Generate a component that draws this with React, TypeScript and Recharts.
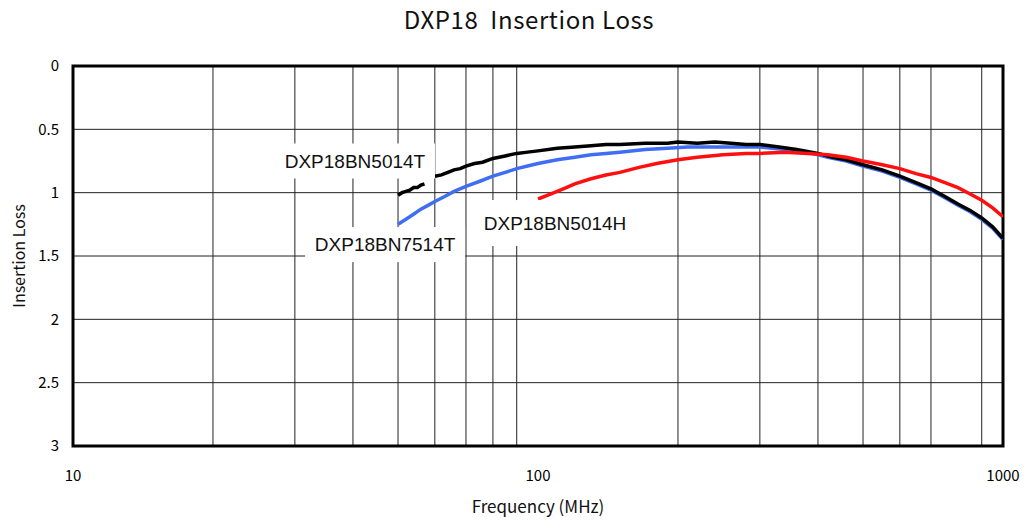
import {
  LineChart,
  Line,
  XAxis,
  YAxis,
  CartesianGrid,
  ReferenceArea,
  ReferenceDot,
  Label,
} from "recharts";

// Frequency (MHz) / insertion loss readings per part
const freq5014T = [50, 51, 52, 53, 54, 55, 56, 57, 58.5, 60, 62, 64, 66, 68, 70, 73, 76, 80, 85, 90, 95, 100, 110, 120, 130, 140, 150, 170, 190, 200, 220, 240, 260, 280, 300, 330, 360, 400, 430, 460, 500, 550, 600, 650, 700, 750, 800, 850, 900, 950, 1000];
const loss5014T = [1.02, 1.0, 0.99, 0.98, 0.96, 0.96, 0.94, 0.93, null, 0.87, 0.86, 0.84, 0.82, 0.81, 0.79, 0.77, 0.76, 0.73, 0.71, 0.69, 0.68, 0.67, 0.65, 0.64, 0.63, 0.62, 0.62, 0.61, 0.61, 0.6, 0.61, 0.6, 0.61, 0.62, 0.62, 0.64, 0.66, 0.69, 0.72, 0.74, 0.78, 0.82, 0.87, 0.92, 0.97, 1.03, 1.09, 1.14, 1.2, 1.27, 1.36];

const freq7514T = [50, 52, 54, 56, 58, 60, 63, 66, 70, 75, 80, 85, 90, 95, 100, 110, 120, 130, 140, 150, 170, 190, 210, 240, 270, 300, 340, 380, 420, 460, 500, 550, 600, 650, 700, 750, 800, 850, 900, 950, 1000];
const loss7514T = [1.25, 1.21, 1.17, 1.13, 1.1, 1.07, 1.03, 0.99, 0.95, 0.91, 0.87, 0.84, 0.81, 0.79, 0.77, 0.74, 0.72, 0.7, 0.69, 0.68, 0.66, 0.65, 0.64, 0.64, 0.64, 0.64, 0.66, 0.68, 0.72, 0.75, 0.79, 0.83, 0.88, 0.93, 0.98, 1.04, 1.1, 1.15, 1.21, 1.28, 1.37];

const freq5014H = [100, 105, 110, 115, 120, 130, 140, 150, 165, 180, 200, 220, 250, 280, 300, 340, 380, 420, 460, 500, 550, 600, 650, 700, 750, 800, 850, 900, 950, 1000];
const loss5014H = [1.05, 1.02, 0.99, 0.96, 0.93, 0.89, 0.86, 0.84, 0.8, 0.77, 0.74, 0.72, 0.7, 0.69, 0.69, 0.68, 0.69, 0.7, 0.72, 0.75, 0.78, 0.81, 0.85, 0.88, 0.92, 0.96, 1.01, 1.06, 1.12, 1.19];

const xTicks = [10, 100, 1000];
const yTicks = [0, 0.5, 1, 1.5, 2, 2.5, 3];
const minorFreqs = [20, 30, 40, 50, 60, 70, 80, 90, 200, 300, 400, 500, 600, 700, 800, 900];
const gridLoss = [0.5, 1, 1.5, 2, 2.5];

// series labels: name, anchor freq, anchor loss
const labelNames = ["DXP18BN5014T", "DXP18BN7514T", "DXP18BN5014H"];
const labelFreqs = [40.4, 46.9, 108.8];
const labelLoss = [0.75, 1.41, 1.24];

const toRows = (f: number[], v: (number | null)[]) =>
  f.map((x, i) => ({ f: x, loss: v[i] }));

const jpFont = "'Noto Sans CJK JP', sans-serif";
const tickFont = { fill: "#000", fontSize: 15, fontFamily: jpFont };

function TagBox(props: any) {
  const { cx, cy, text, w, h } = props;
  return (
    <g>
      <rect x={cx - w / 2} y={cy - h / 2} width={w} height={h} fill="#fff" />
      <text
        x={cx}
        y={cy}
        textAnchor="middle"
        dominantBaseline="central"
        fontSize={19}
        fontFamily="'Liberation Sans', Arial, sans-serif"
        fill="#111"
      >
        {text}
      </text>
    </g>
  );
}

const boxSizes = [
  [160, 35],
  [160, 35],
  [165, 46],
];

export default function App() {
  return (
    <div style={{ position: "absolute", left: 0, top: 0, width: 1025, height: 521, background: "#fff" }}>
      <div
        style={{
          position: "absolute",
          left: 0,
          top: 1,
          width: 1058,
          textAlign: "center",
          fontSize: 24,
          letterSpacing: 0.6,
          fontFamily: jpFont,
          color: "#111",
          whiteSpace: "pre",
        }}
      >
        {"DXP18  Insertion Loss"}
      </div>
      <LineChart width={1025} height={521} margin={{ top: 66, right: 22, bottom: 35, left: 13 }}>
        <CartesianGrid
          stroke="#222"
          strokeWidth={1}
          verticalValues={minorFreqs}
          horizontalValues={gridLoss}
        />
        <XAxis
          type="number"
          dataKey="f"
          scale="log"
          domain={[10, 1000]}
          ticks={xTicks}
          allowDataOverflow
          axisLine={false}
          tickLine={false}
          tickSize={0}
          tickMargin={24}
          height={40}
          tick={tickFont}
        >
          <Label
            value="Frequency (MHz)"
            position="bottom"
            offset={15}
            style={{ fontSize: 17, fontFamily: jpFont, fill: "#111" }}
          />
        </XAxis>
        <YAxis
          type="number"
          domain={[0, 3]}
          reversed
          ticks={yTicks}
          axisLine={false}
          tickLine={false}
          tickSize={0}
          tickMargin={14}
          width={60}
          tick={tickFont}
        >
          <Label
            value="Insertion Loss"
            angle={-90}
            position="insideLeft"
            offset={6}
            style={{ textAnchor: "middle", fontSize: 16, fontFamily: jpFont, fill: "#111" }}
          />
        </YAxis>
        {labelNames.map((name, i) => (
          <ReferenceDot
            key={name}
            x={labelFreqs[i]}
            y={labelLoss[i]}
            r={0}
            shape={(p: any) => <TagBox {...p} text={name} w={boxSizes[i][0]} h={boxSizes[i][1]} />}
          />
        ))}
        <Line
          data={toRows(freq7514T, loss7514T)}
          dataKey="loss"
          stroke="#3f6ef2"
          strokeWidth={3.5}
          dot={false}
          isAnimationActive={false}
        />
        <Line
          data={toRows(freq5014T, loss5014T)}
          dataKey="loss"
          stroke="#000"
          strokeWidth={3.5}
          dot={false}
          connectNulls={false}
          isAnimationActive={false}
        />
        <Line
          data={toRows(freq5014H, loss5014H)}
          dataKey="loss"
          stroke="#ff1010"
          strokeWidth={3.5}
          dot={false}
          isAnimationActive={false}
        />
        <ReferenceArea x1={10} x2={1000} y1={0} y2={3} fill="none" stroke="#000" strokeWidth={3} />
      </LineChart>
    </div>
  );
}
